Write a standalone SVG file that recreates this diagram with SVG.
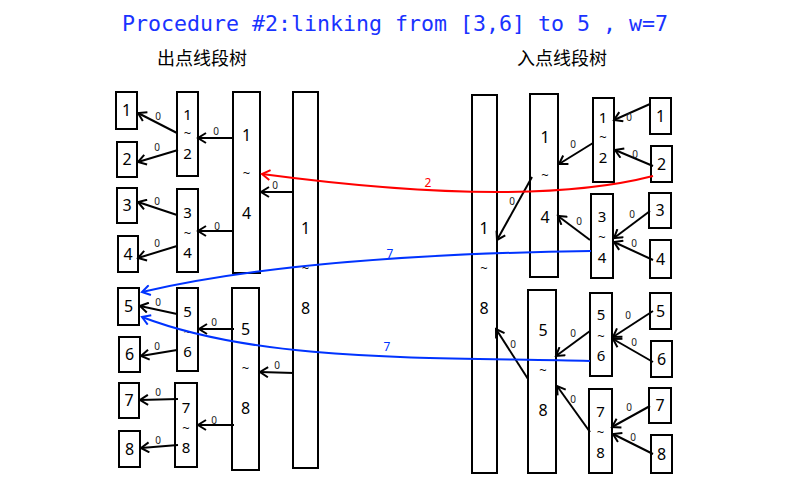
<svg xmlns="http://www.w3.org/2000/svg" width="800" height="500" viewBox="0 0 800 500">
<defs>
<style>
.box{fill:#fff;stroke:#000;stroke-width:2}
.t{font-family:"Noto Sans","DejaVu Sans",sans-serif;font-size:16px;fill:#000;text-anchor:middle}
.s{font-family:"Noto Sans","DejaVu Sans",sans-serif;font-size:15px;fill:#000;text-anchor:middle}
.w{font-family:"Noto Sans","DejaVu Sans",sans-serif;font-size:13px;fill:#000;text-anchor:middle}
.z{font-family:"Noto Sans","DejaVu Sans",sans-serif;font-size:10px;fill:#222;text-anchor:middle}
.e{fill:none;stroke:#000;stroke-width:2;marker-end:url(#ah)}
.cn{font-family:"Noto Sans CJK SC",sans-serif;font-size:18px;fill:#000;text-anchor:middle}
</style>
<marker id="ah" markerUnits="userSpaceOnUse" markerWidth="12" markerHeight="12" refX="9" refY="6" orient="auto"><path d="M1,1 L9,6 L1,11" fill="none" stroke="#000" stroke-width="2"/></marker>
<marker id="ahr" markerUnits="userSpaceOnUse" markerWidth="12" markerHeight="12" refX="9" refY="6" orient="auto"><path d="M1,1 L9,6 L1,11" fill="none" stroke="#ff0000" stroke-width="2"/></marker>
<marker id="ahb" markerUnits="userSpaceOnUse" markerWidth="12" markerHeight="12" refX="9" refY="6" orient="auto"><path d="M1,1 L9,6 L1,11" fill="none" stroke="#0033ff" stroke-width="2"/></marker>
</defs>
<rect width="800" height="500" fill="#fff"/>
<text x="395" y="31" font-family="'DejaVu Sans Mono',monospace" font-size="21.6" fill="#1a33ff" text-anchor="middle">Procedure #2:linking from [3,6] to 5 , w=7</text>
<text class="cn" x="202" y="65">出点线段树</text>
<text class="cn" x="562" y="65">入点线段树</text>

<!-- left tree -->
<g id="L1"><rect class="box" x="116" y="92" width="21" height="37"/><text class="t" x="126.5" y="116">1</text></g>
<g id="L2"><rect class="box" x="117" y="142" width="20" height="35"/><text class="t" x="127" y="165">2</text></g>
<g id="L3"><rect class="box" x="117" y="188" width="20" height="35"/><text class="t" x="127" y="211">3</text></g>
<g id="L4"><rect class="box" x="118" y="236" width="20" height="36"/><text class="t" x="128" y="260">4</text></g>
<g id="L5"><rect class="box" x="118" y="288" width="21" height="37"/><text class="t" x="128.5" y="312">5</text></g>
<g id="L6"><rect class="box" x="119" y="337" width="21" height="35"/><text class="t" x="129.5" y="360">6</text></g>
<g id="L7"><rect class="box" x="119" y="383" width="20" height="35"/><text class="t" x="129" y="406">7</text></g>
<g id="L8"><rect class="box" x="119" y="431" width="21" height="36"/><text class="t" x="129.5" y="455">8</text></g>
<g id="L12"><rect class="box" x="177" y="92" width="21" height="84"/><text class="s" x="187.5" y="120">1</text><text class="w" x="187.5" y="138">~</text><text class="s" x="187.5" y="159">2</text></g>
<g id="L34"><rect class="box" x="177" y="189" width="21" height="83"/><text class="s" x="187.5" y="218">3</text><text class="w" x="187.5" y="238">~</text><text class="s" x="187.5" y="258">4</text></g>
<g id="L56"><rect class="box" x="177" y="288" width="21" height="83"/><text class="s" x="187.5" y="317">5</text><text class="w" x="187.5" y="337">~</text><text class="s" x="187.5" y="357">6</text></g>
<g id="L78"><rect class="box" x="175" y="383" width="22" height="84"/><text class="s" x="186" y="413">7</text><text class="w" x="186" y="433">~</text><text class="s" x="186" y="453">8</text></g>
<g id="L14"><rect class="box" x="233" y="92" width="27" height="181"/><text class="t" x="246.5" y="141">1</text><text class="w" x="246.5" y="178">~</text><text class="t" x="246.5" y="219">4</text></g>
<g id="L58"><rect class="box" x="232" y="288" width="27" height="182"/><text class="t" x="245.5" y="335">5</text><text class="w" x="245.5" y="373">~</text><text class="t" x="245.5" y="414">8</text></g>
<g id="L18"><rect class="box" x="293" y="92" width="25" height="376"/><text class="t" x="305.5" y="234">1</text><text class="w" x="305.5" y="273">~</text><text class="t" x="305.5" y="314">8</text></g>

<!-- right tree -->
<g id="R18"><rect class="box" x="472" y="95" width="25" height="378"/><text class="t" x="484" y="234">1</text><text class="w" x="484" y="273">~</text><text class="t" x="484" y="314">8</text></g>
<g id="R14"><rect class="box" x="530" y="94" width="28" height="183"/><text class="t" x="545" y="143">1</text><text class="w" x="545" y="180">~</text><text class="t" x="545" y="223">4</text></g>
<g id="R58"><rect class="box" x="528" y="290" width="28" height="183"/><text class="t" x="543" y="336">5</text><text class="w" x="543" y="375">~</text><text class="t" x="543" y="416">8</text></g>
<g id="R12"><rect class="box" x="593" y="98" width="21" height="84"/><text class="s" x="603" y="123">1</text><text class="w" x="603" y="142">~</text><text class="s" x="603" y="163">2</text></g>
<g id="R34"><rect class="box" x="591" y="194" width="22" height="84"/><text class="s" x="602" y="222">3</text><text class="w" x="602" y="242">~</text><text class="s" x="602" y="263">4</text></g>
<g id="R56"><rect class="box" x="590" y="293" width="22" height="83"/><text class="s" x="601" y="320">5</text><text class="w" x="601" y="341">~</text><text class="s" x="601" y="361">6</text></g>
<g id="R78"><rect class="box" x="589" y="389" width="23" height="84"/><text class="s" x="600.5" y="417">7</text><text class="w" x="600.5" y="437">~</text><text class="s" x="600.5" y="458">8</text></g>
<g id="R1"><rect class="box" x="650" y="98" width="21" height="36"/><text class="t" x="660.5" y="122">1</text></g>
<g id="R2"><rect class="box" x="651" y="146" width="21" height="36"/><text class="t" x="661.5" y="170">2</text></g>
<g id="R3"><rect class="box" x="649" y="193" width="22" height="35"/><text class="t" x="660" y="216">3</text></g>
<g id="R4"><rect class="box" x="650" y="240" width="21" height="38"/><text class="t" x="660.5" y="265">4</text></g>
<g id="R5"><rect class="box" x="650" y="293" width="21" height="36"/><text class="t" x="660.5" y="317">5</text></g>
<g id="R6"><rect class="box" x="651" y="341" width="21" height="36"/><text class="t" x="661.5" y="365">6</text></g>
<g id="R7"><rect class="box" x="649" y="388" width="22" height="35"/><text class="t" x="660" y="411">7</text></g>
<g id="R8"><rect class="box" x="651" y="435" width="21" height="38"/><text class="t" x="661.5" y="460">8</text></g>

<g id="connectors">
<path class="e" d="M177,133 L138,113"/><text class="z" x="158" y="120">0</text>
<path class="e" d="M178,150 L138,162"/><text class="z" x="157" y="151">0</text>
<path class="e" d="M234,138 L198,138"/><text class="z" x="216" y="135">0</text>
<path class="e" d="M293,192 L261,192"/><text class="z" x="275" y="189">0</text>
<path class="e" d="M177,215 L138,202"/><text class="z" x="157" y="205">0</text>
<path class="e" d="M177,246 L138,258"/><text class="z" x="157" y="247">0</text>
<path class="e" d="M234,231 L198,231"/><text class="z" x="217" y="230">0</text>
<path class="e" d="M177,314 L140,306"/><text class="z" x="158" y="306">0</text>
<path class="e" d="M177,350 L141,356"/><text class="z" x="157" y="350">0</text>
<path class="e" d="M234,329 L199,329"/><text class="z" x="214" y="326">0</text>
<path class="e" d="M294,373 L260,372"/><text class="z" x="277" y="369">0</text>
<path class="e" d="M178,399 L140,400"/><text class="z" x="158" y="396">0</text>
<path class="e" d="M178,445 L141,448"/><text class="z" x="158" y="444">0</text>
<path class="e" d="M234,425 L198,425"/><text class="z" x="214" y="424">0</text>

<path class="e" d="M650,104 L614,120"/><text class="z" x="629" y="121">0</text>
<path class="e" d="M653,166 L615,150"/><text class="z" x="635" y="158">0</text>
<path class="e" d="M593,143 L559,164"/><text class="z" x="573" y="148">0</text>
<path class="e" d="M532,177 L497,240"/><text class="z" x="512" y="205">0</text>
<path class="e" d="M650,211 L614,238"/><text class="z" x="632" y="218">0</text>
<path class="e" d="M653,260 L614,242"/><text class="z" x="634" y="247">0</text>
<path class="e" d="M590,240 L558,216"/><text class="z" x="579" y="225">0</text>
<path class="e" d="M653,311 L613,337"/><text class="z" x="628" y="319">0</text>
<path class="e" d="M653,362 L613,339"/><text class="z" x="634" y="346">0</text>
<path class="e" d="M590,331 L556,356"/><text class="z" x="573" y="337">0</text>
<path class="e" d="M528,379 L496,329"/><text class="z" x="513" y="348">0</text>
<path class="e" d="M650,406 L612,427"/><text class="z" x="629" y="411">0</text>
<path class="e" d="M653,454 L613,434"/><text class="z" x="633" y="441">0</text>
<path class="e" d="M590,432 L557,386"/><text class="z" x="573" y="403">0</text>

<path d="M653,176 C560,200 420,195 262,174" fill="none" stroke="#ff0000" stroke-width="2" marker-end="url(#ahr)"/>
<text x="428" y="187" font-family="'Noto Sans',sans-serif" font-size="12" fill="#ff0000" text-anchor="middle">2</text>
<path d="M591,251 Q300,255 142,292" fill="none" stroke="#0033ff" stroke-width="2" marker-end="url(#ahb)"/>
<text x="390" y="258" font-family="'Noto Sans',sans-serif" font-size="12" fill="#0033ff" text-anchor="middle">7</text>
<path d="M590,361 C420,357 260,362 142,317" fill="none" stroke="#0033ff" stroke-width="2" marker-end="url(#ahb)"/>
<text x="387" y="351" font-family="'Noto Sans',sans-serif" font-size="12" fill="#0033ff" text-anchor="middle">7</text>
</g>
</svg>
